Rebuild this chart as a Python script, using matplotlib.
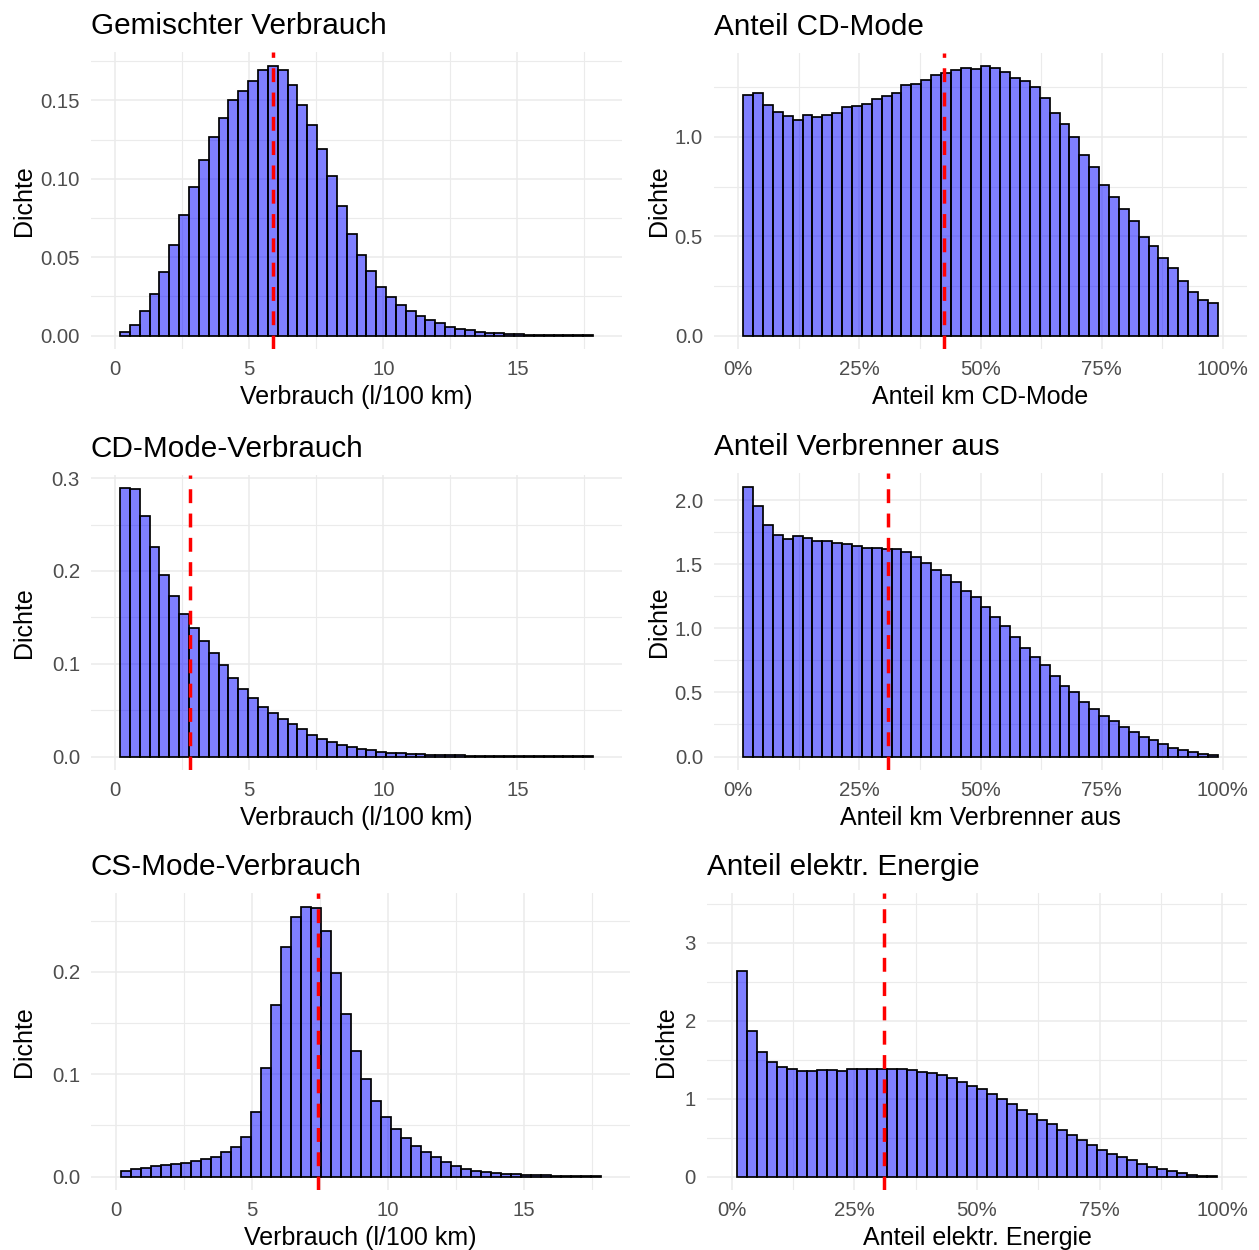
import numpy as np
import matplotlib
matplotlib.use('Agg')
import matplotlib.pyplot as plt
from matplotlib.ticker import MultipleLocator, PercentFormatter, FormatStrFormatter

plt.rcParams['font.family'] = ['Liberation Sans', 'DejaVu Sans']

# Dichte je Bin (50 Bins ueber den Achsenbereich, die beiden Randbins fallen weg -> 48 Balken)
gemischt_dichte = [0.0023, 0.0068, 0.0158, 0.0266, 0.0407, 0.0577, 0.0767, 0.0945, 0.1122, 0.1269,
                   0.1390, 0.1500, 0.1560, 0.1625, 0.1693, 0.1723, 0.1695, 0.1600, 0.1470, 0.1346,
                   0.1192, 0.1016, 0.0824, 0.0650, 0.0511, 0.0409, 0.0311, 0.0245, 0.0196, 0.0158,
                   0.0124, 0.0096, 0.0077, 0.0057, 0.0043, 0.0032, 0.0023, 0.0019, 0.0015, 0.0011,
                   0.0009, 0.0006, 0.0005, 0.0004, 0.0003, 0.0003, 0.0002, 0.0002]
cd_anteil_dichte = [1.211, 1.221, 1.161, 1.124, 1.105, 1.087, 1.110, 1.100, 1.110, 1.122,
                    1.149, 1.157, 1.167, 1.189, 1.206, 1.222, 1.263, 1.268, 1.288, 1.311,
                    1.324, 1.338, 1.346, 1.344, 1.355, 1.348, 1.329, 1.296, 1.283, 1.254,
                    1.196, 1.119, 1.067, 0.998, 0.910, 0.848, 0.758, 0.697, 0.637, 0.575,
                    0.498, 0.450, 0.388, 0.338, 0.273, 0.221, 0.179, 0.164]
cd_verbrauch_dichte = [0.2890, 0.2885, 0.2590, 0.2260, 0.1956, 0.1734, 0.1537, 0.1384, 0.1248, 0.1119,
                       0.0990, 0.0847, 0.0726, 0.0629, 0.0536, 0.0472, 0.0408, 0.0350, 0.0293, 0.0232,
                       0.0190, 0.0161, 0.0129, 0.0100, 0.0086, 0.0068, 0.0054, 0.0043, 0.0036, 0.0029,
                       0.0025, 0.0021, 0.0018, 0.0015, 0.0013, 0.0011, 0.0010, 0.0009, 0.0008, 0.0007,
                       0.0006, 0.0005, 0.0005, 0.0004, 0.0004, 0.0003, 0.0003, 0.0002]
verbrenner_aus_dichte = [2.107, 1.956, 1.805, 1.727, 1.700, 1.721, 1.706, 1.680, 1.680, 1.664,
                         1.656, 1.641, 1.628, 1.625, 1.620, 1.617, 1.599, 1.555, 1.513, 1.456,
                         1.417, 1.365, 1.294, 1.247, 1.164, 1.091, 1.016, 0.935, 0.846, 0.773,
                         0.716, 0.628, 0.552, 0.505, 0.424, 0.370, 0.315, 0.276, 0.232, 0.1875,
                         0.154, 0.128, 0.094, 0.070, 0.052, 0.036, 0.018, 0.008]
cs_verbrauch_dichte = [0.0052, 0.0069, 0.0085, 0.0101, 0.0110, 0.0122, 0.0135, 0.0150, 0.0167, 0.0186,
                       0.0235, 0.0290, 0.0389, 0.0627, 0.1065, 0.1680, 0.2248, 0.2540, 0.2640, 0.2630,
                       0.2405, 0.1993, 0.1588, 0.1229, 0.0951, 0.0739, 0.0578, 0.0464, 0.0373, 0.0301,
                       0.0242, 0.0190, 0.0137, 0.0105, 0.0075, 0.0056, 0.0042, 0.0033, 0.0026, 0.0020,
                       0.0016, 0.0012, 0.0010, 0.0008, 0.0006, 0.0005, 0.0004, 0.0003]
elektr_anteil_dichte = [2.640, 1.870, 1.605, 1.476, 1.403, 1.382, 1.361, 1.361, 1.365, 1.369,
                        1.356, 1.378, 1.382, 1.382, 1.386, 1.382, 1.386, 1.374, 1.348, 1.335,
                        1.305, 1.271, 1.219, 1.160, 1.121, 1.065, 1.001, 0.937, 0.860, 0.804,
                        0.732, 0.680, 0.603, 0.539, 0.475, 0.406, 0.347, 0.295, 0.252, 0.210,
                        0.158, 0.124, 0.094, 0.068, 0.047, 0.026, 0.013, 0.005]

# Mittelwerte (rote gestrichelte Linie)
gemischt_mittel = 5.87
cd_anteil_mittel = 0.425
cd_verbrauch_mittel = 2.80
verbrenner_aus_mittel = 0.309
cs_verbrauch_mittel = 7.43
elektr_anteil_mittel = 0.310

fig = plt.figure(figsize=(12.59, 12.5), dpi=100)


def px_axes(l, r, t, b):
    ax = fig.add_axes([l / 1259, 1 - b / 1250, (r - l) / 1259, (b - t) / 1250])
    ax._px = (l, r)
    return ax


def histo(ax, dichte, x_max, mittel, titel, xlabel, y_step, y_fmt, ylab_px,
          y_lim=None, pct=False):
    n_bins = 50
    w = x_max / (n_bins - 1)
    mitten = np.arange(1, n_bins - 1) * w
    ax.bar(mitten, dichte, width=w, facecolor=(0, 0, 1, 0.5), edgecolor='black',
           linewidth=1.25, zorder=2)
    ax.axvline(mittel, color='red', linestyle=(0, (4, 3)), linewidth=2.5, zorder=3)

    ax.set_xlim(-0.05 * x_max, 1.05 * x_max)
    if y_lim is None:
        top = max(dichte)
        y_lim = (-0.05 * top, 1.05 * top)
    ax.set_ylim(*y_lim)

    if pct:
        ax.xaxis.set_major_locator(MultipleLocator(0.25))
        ax.xaxis.set_minor_locator(MultipleLocator(0.125))
        ax.xaxis.set_major_formatter(PercentFormatter(xmax=1, decimals=0))
    else:
        ax.xaxis.set_major_locator(MultipleLocator(5))
        ax.xaxis.set_minor_locator(MultipleLocator(2.5))
    ax.yaxis.set_major_locator(MultipleLocator(y_step))
    ax.yaxis.set_minor_locator(MultipleLocator(y_step / 2))
    ax.yaxis.set_major_formatter(FormatStrFormatter(y_fmt))

    ax.set_axisbelow(True)
    ax.grid(True, which='major', color='#EBEBEB', linewidth=1.1, zorder=0)
    ax.grid(True, which='minor', color='#EBEBEB', linewidth=0.8, zorder=0)
    for s in ax.spines.values():
        s.set_visible(False)
    ax.tick_params(which='both', length=0, pad=8, labelsize=14.7, labelcolor='#4D4D4D')

    ax.set_title(titel, loc='left', fontsize=21.4, pad=13)
    ax.set_xlabel(xlabel, fontsize=18, labelpad=4)
    ax.set_ylabel('Dichte', fontsize=18)
    # Achsentitel an feste Pixelposition (rechte Kante des gedrehten Textes)
    l, r = ax._px
    ax.yaxis.set_label_coords((ylab_px - l) / (r - l), 0.5)


ax1 = px_axes(91, 622, 52, 349)
histo(ax1, gemischt_dichte, 18, gemischt_mittel, 'Gemischter Verbrauch',
      'Verbrauch (l/100 km)', 0.05, '%.2f', 36)

ax2 = px_axes(714, 1247, 53, 349)
histo(ax2, cd_anteil_dichte, 1, cd_anteil_mittel, 'Anteil CD-Mode',
      'Anteil km CD-Mode', 0.5, '%.1f', 671, pct=True)

ax3 = px_axes(91, 622, 475, 770)
histo(ax3, cd_verbrauch_dichte, 18, cd_verbrauch_mittel, 'CD-Mode-Verbrauch',
      'Verbrauch (l/100 km)', 0.1, '%.1f', 36)

ax4 = px_axes(714, 1247, 473, 770)
histo(ax4, verbrenner_aus_dichte, 1, verbrenner_aus_mittel, 'Anteil Verbrenner aus',
      'Anteil km Verbrenner aus', 0.5, '%.1f', 671, pct=True)

ax5 = px_axes(91, 630, 893, 1190)
histo(ax5, cs_verbrauch_dichte, 18, cs_verbrauch_mittel, 'CS-Mode-Verbrauch',
      'Verbrauch (l/100 km)', 0.1, '%.1f', 36)

ax6 = px_axes(707, 1247, 893, 1190)
histo(ax6, elektr_anteil_dichte, 1, elektr_anteil_mittel, 'Anteil elektr. Energie',
      'Anteil elektr. Energie', 1, '%.0f', 678, y_lim=(-0.17, 3.64), pct=True)

fig.savefig('out.png', dpi=100, facecolor='white')
plt.close(fig)
